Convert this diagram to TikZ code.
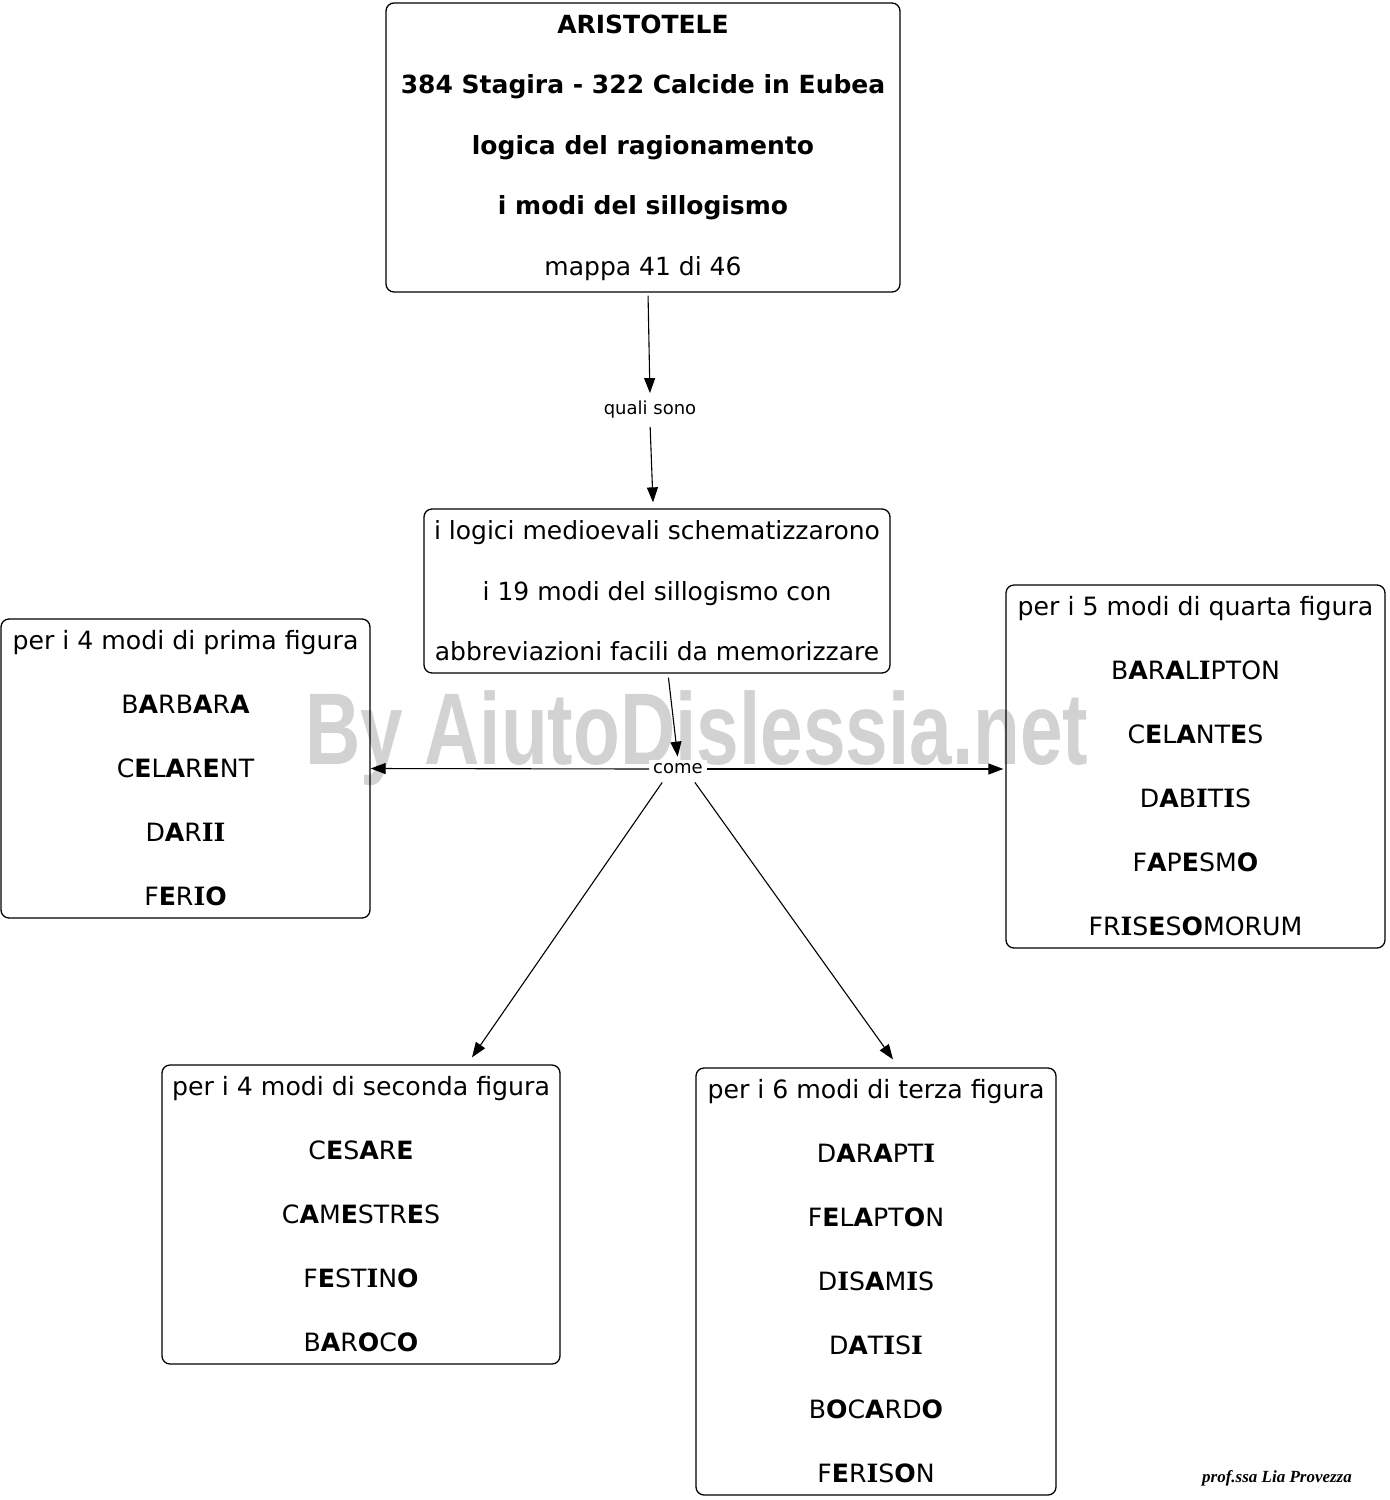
\documentclass[tikz,border=0pt]{standalone}
\usepackage{graphicx}
\usepackage{fontspec}
\setmainfont{DejaVu Sans}
\newfontfamily\wmfont{Liberation Sans}
\newfontfamily\sigfont{Liberation Serif}
\newfontfamily\slabfont{DejaVu Serif}
\usetikzlibrary{arrows.meta}
\newcommand{\bl}[1]{\textbf{#1}}
\newcommand{\bI}{{\slabfont\bfseries I}}
\definecolor{wmgray}{HTML}{D2D2D2}
\begin{document}
\begin{tikzpicture}[x=1pt,y=-1pt,
  box/.style={draw, line width=1.3pt, rounded corners=8pt, align=center, inner sep=0pt},
  figbox/.style={box, font=\fontsize{25.2}{64}\selectfont},
  headbox/.style={box, font=\fontsize{25}{60.5}\selectfont},
  arr/.style={-{Triangle[length=15pt,width=11pt]}, line width=1.1pt},
  lab/.style={font=\fontsize{18}{20}\selectfont, fill=white, inner sep=4pt}]
\useasboundingbox (0,0) rectangle (1390,1500);

% watermark
\node[text=wmgray, inner sep=0pt] (wm) at (697,738)
  {\resizebox*{783pt}{95pt}{\wmfont\bfseries By AiutoDislessia.net}};

% boxes
\node[headbox, minimum width=514pt, minimum height=289pt] (top) at (643,147.5)
  {\bfseries ARISTOTELE\\ \bfseries 384 Stagira - 322 Calcide in Eubea\\ \bfseries logica del ragionamento\\ \bfseries i modi del sillogismo\\ mappa 41 di 46};
\node[headbox, minimum width=466pt, minimum height=164pt] (mid) at (657,591)
  {i logici medioevali schematizzarono\\ i 19 modi del sillogismo con\\ abbreviazioni facili da memorizzare};
\node[figbox, minimum width=369pt, minimum height=299pt] (prima) at (185.5,768.5)
  {per i 4 modi di prima figura\\ B\bl{A}RB\bl{A}R\bl{A}\\ C\bl{E}L\bl{A}R\bl{E}NT\\ D\bl{A}R\bI\bI\\ F\bl{E}R\bI\bl{O}};
\node[figbox, minimum width=379pt, minimum height=363pt] (quarta) at (1195.5,766.5)
  {per i 5 modi di quarta figura\\ B\bl{A}R\bl{A}L\bI PTON\\ C\bl{E}L\bl{A}NT\bl{E}S\\ D\bl{A}B\bI T\bI S\\ F\bl{A}P\bl{E}SM\bl{O}\\ FR\bI S\bl{E}S\bl{O}MORUM};
\node[figbox, minimum width=398pt, minimum height=299pt] (seconda) at (361,1214.5)
  {per i 4 modi di seconda figura\\ C\bl{E}S\bl{A}R\bl{E}\\ C\bl{A}M\bl{E}STR\bl{E}S\\ F\bl{E}ST\bI N\bl{O}\\ B\bl{A}R\bl{O}C\bl{O}};
\node[figbox, minimum width=360pt, minimum height=427pt] (terza) at (876,1281.5)
  {per i 6 modi di terza figura\\ D\bl{A}R\bl{A}PT\bI\\ F\bl{E}L\bl{A}PT\bl{O}N\\ D\bI S\bl{A}M\bI S\\ D\bl{A}T\bI S\bI\\ B\bl{O}C\bl{A}RD\bl{O}\\ F\bl{E}R\bI S\bl{O}N};

% labels
\node[lab] (quali) at (650,410) {quali sono};
\node[lab] (come) at (678,769) {come};

% connectors
\draw[arr, shorten <=3pt, shorten >=4pt] ([xshift=5pt]top.south) -- (quali.north);
\draw[arr, shorten <=4pt] (quali.south) -- ([xshift=-4pt,yshift=6pt]mid.north);
\draw[arr, shorten <=4pt, shorten >=3pt] ([xshift=11pt]mid.south) -- (come.north);
\draw[arr] (come.west) -- (prima.east);
\draw[arr, shorten >=2pt] (come.east) -- (come.east -| quarta.west);
\draw[arr, shorten <=5pt] ([xshift=-13pt]come.south) -- ([xshift=111pt,yshift=7pt]seconda.north);
\draw[arr, shorten <=5pt] ([xshift=14pt]come.south) -- ([xshift=17pt,yshift=8pt]terza.north);

% signature
\node[font=\sigfont\bfseries\itshape\fontsize{17}{20}\selectfont, inner sep=0pt] (sig) at (1277,1478) {prof.ssa Lia Provezza};
\end{tikzpicture}
\end{document}
